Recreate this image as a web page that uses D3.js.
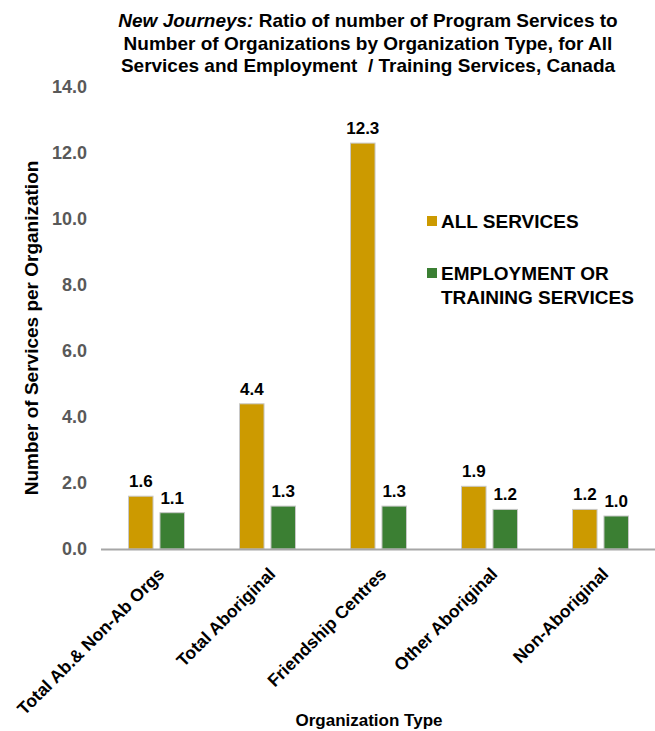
<!DOCTYPE html>
<meta charset="utf-8">
<style>
body { margin: 0; background: #fff; }
text { font-family: Arial, "Liberation Sans", sans-serif; }
.tick text { fill: #595959; font-weight: bold; font-size: 18px; }
.axis--x .tick text { fill: #000; font-size: 17.5px; }
.lbl { font-weight: bold; font-size: 17px; fill: #000; }
</style>
<svg width="655" height="731"></svg>
<script src="https://d3js.org/d3.v7.min.js"></script>
<script>

var categories = ["Total Ab.& Non-Ab Orgs", "Total Aboriginal", "Friendship Centres", "Other Aboriginal", "Non-Aboriginal"];
var series = ["ALL SERVICES", "EMPLOYMENT OR TRAINING SERVICES"];
var allServices = [1.6, 4.4, 12.3, 1.9, 1.2];
var employment = [1.1, 1.3, 1.3, 1.2, 1.0];
var yTicks = [0, 2, 4, 6, 8, 10, 12, 14];
var colors = ["#cc9a00", "#3b7f33"];

var svg = d3.select("svg");

var x = d3.scaleBand().domain(categories).range([101, 656]).paddingInner(0).paddingOuter(0);
var y = d3.scaleLinear().domain([0, 14]).range([549, 87]);
var xs = d3.scaleBand().domain(series).range([-28, 28]).paddingInner(0.22);

var data = categories.map(function(c, i) {
  return {cat: c, vals: [allServices[i], employment[i]]};
});

// y axis (labels only)
var gy = svg.append("g")
    .attr("class", "axis axis--y")
    .attr("transform", "translate(95,0)")
    .call(d3.axisLeft(y).tickValues(yTicks).tickFormat(d3.format(".1f")).tickSize(0).tickPadding(8));
gy.select(".domain").remove();

// bars
var groups = svg.selectAll(".grp")
  .data(data)
  .enter().append("g")
    .attr("class", "grp")
    .attr("transform", function(d) { return "translate(" + (x(d.cat) + x.bandwidth() / 2) + ",0)"; });

groups.selectAll("rect")
  .data(function(d) { return d.vals.map(function(v, j) { return {s: series[j], v: v, j: j}; }); })
  .enter().append("rect")
    .attr("x", function(d) { return xs(d.s); })
    .attr("y", function(d) { return y(d.v); })
    .attr("width", xs.bandwidth())
    .attr("height", function(d) { return y(0) - y(d.v); })
    .attr("fill", function(d) { return colors[d.j]; })
    .attr("stroke", "#c8c8c8")
    .attr("stroke-width", 1);

groups.selectAll(".lbl")
  .data(function(d) { return d.vals.map(function(v, j) { return {s: series[j], v: v}; }); })
  .enter().append("text")
    .attr("class", "lbl")
    .attr("x", function(d) { return xs(d.s) + xs.bandwidth() / 2; })
    .attr("y", function(d) { return y(d.v) - 9; })
    .attr("text-anchor", "middle")
    .text(function(d) { return d3.format(".1f")(d.v); });

// x axis
var gx = svg.append("g")
    .attr("class", "axis axis--x")
    .attr("transform", "translate(0," + y(0) + ")")
    .call(d3.axisBottom(x).tickSize(0).tickPadding(0));
gx.select(".domain").attr("stroke", "#a6a6a6").attr("stroke-width", 2).attr("d", "M101,0.5H655");
gx.selectAll(".tick text")
    .attr("text-anchor", "end")
    .attr("dy", null)
    .attr("transform", "translate(9,26) rotate(-45)");

// axis titles
svg.append("text")
    .attr("transform", "translate(38,328) rotate(-90)")
    .attr("text-anchor", "middle")
    .style("font-weight", "bold").style("font-size", "19px")
    .text("Number of Services per Organization");

svg.append("text")
    .attr("x", 369).attr("y", 726)
    .attr("text-anchor", "middle")
    .style("font-weight", "bold").style("font-size", "17px")
    .text("Organization Type");

// title
var title = svg.append("text")
    .attr("text-anchor", "middle")
    .style("font-weight", "bold").style("font-size", "19px")
    .style("white-space", "pre");
var t1 = title.append("tspan").attr("x", 368).attr("y", 27);
t1.append("tspan").style("font-style", "italic").text("New Journeys:");
t1.append("tspan").text(" Ratio of number of Program Services to");
title.append("tspan").attr("x", 368).attr("y", 50).text("Number of Organizations by Organization Type, for All");
title.append("tspan").attr("x", 368).attr("y", 72).text("Services and Employment  / Training Services, Canada");

// legend
var legendLines = [["ALL SERVICES"], ["EMPLOYMENT OR", "TRAINING SERVICES"]];
var legend = svg.selectAll(".leg")
  .data(series)
  .enter().append("g")
    .attr("class", "leg")
    .attr("transform", function(d, i) { return "translate(427," + (216 + i * 52) + ")"; });
legend.append("rect")
    .attr("width", 10).attr("height", 10)
    .attr("fill", function(d, i) { return colors[i]; });
legend.append("text")
    .style("font-weight", "bold").style("font-size", "19px")
    .selectAll("tspan")
    .data(function(d, i) { return legendLines[i]; })
    .enter().append("tspan")
      .attr("x", 14)
      .attr("y", function(d, k) { return 12 + k * 24; })
      .text(function(d) { return d; });

</script>
